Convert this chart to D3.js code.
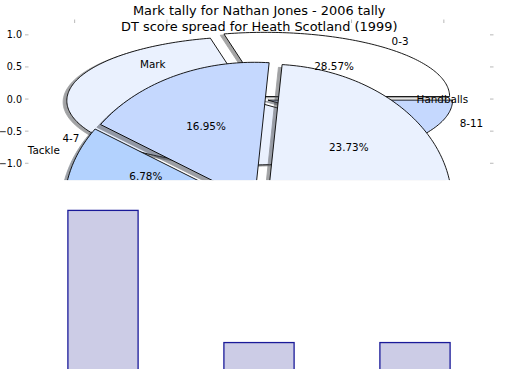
<!DOCTYPE html>
<html><head><meta charset="utf-8">
<script src="https://cdn.jsdelivr.net/npm/d3@7"></script>
<style>body{margin:0;background:#fff} text{font-family:"DejaVu Sans",sans-serif;fill:#000}</style>
</head><body><svg id="c" width="520" height="390"></svg>
<script>
// ---- data ----
const titleLines = ["Mark tally for Nathan Jones - 2006 tally", "DT score spread for Heath Scotland (1999)"];
const outerLabels = ["0-3", "4-7", "8-11"];
const outerValues = [8, 17, 3];
const outerColors = ["#ffffff", "#eaf1fe", "#c5d8fe"];
const outerExplode = [0.05, 0.05, 0.05];
const innerLabels = ["Handballs", "Mark", "Tackle", ""];
const innerValues = [14, 10, 4, 31];
const innerColors = ["#eaf1fe", "#c5d8fe", "#b3d2fe", "#a3c6fe"];
const innerExplode = [0.06, 0.06, 0.06, 0.06];
const yTicks = [-1.0, -0.5, 0.0, 0.5, 1.0];
const xTicks = [-1.0, -0.5, 0.0, 0.5, 1.0];
const barCats = ["0-3", "4-7", "8-11"];
const barValues = [12.5, 2.5, 2.5];

// ---- scales ----
const svg = d3.select("#c");
const x = d3.scaleLinear().domain([-1.25, 1.25]).range([28.5, 490]);
const yTop = d3.scaleLinear().domain([-1.25, 1.25]).range([179.3, 18.8]);
const yInner = d3.scaleLinear().domain([-1.25, 1.25]).range([383, 35]);
const xBand = d3.scaleBand().domain(barCats).range([25, 493]).paddingInner(0.55).paddingOuter(0.275);
const yBar = d3.scaleLinear().domain([0.5, 14.8]).range([369, 180]);

const defs = svg.append("defs");
defs.append("clipPath").attr("id", "topClip").append("rect")
  .attr("x", 0).attr("y", 0).attr("width", 520).attr("height", 180.3);
defs.append("clipPath").attr("id", "barClip").append("rect")
  .attr("x", 0).attr("y", 0).attr("width", 520).attr("height", 369);

const pieGen = d3.pie().sort(null).startAngle(0).endAngle(2 * Math.PI);

function wedges(values, explode, labels, colors) {
  return pieGen(values).map((d, i) => {
    const mid = (d.startAngle + d.endAngle) / 2;
    return {a0: d.startAngle, a1: d.endAngle, mid,
      cx: explode[i] * Math.cos(mid), cy: explode[i] * Math.sin(mid),
      pct: d.value / d3.sum(values) * 100, label: labels[i], color: colors[i]};
  });
}
function wedgePts(w, dx, dy) {
  const n = Math.max(8, Math.ceil((w.a1 - w.a0) / 0.02));
  const pts = [[w.cx + dx, w.cy + dy]];
  for (let k = 0; k <= n; k++) {
    const t = w.a0 + (w.a1 - w.a0) * k / n;
    pts.push([w.cx + dx + Math.cos(t), w.cy + dy + Math.sin(t)]);
  }
  return pts;
}
function shade(c) {
  const r = d3.rgb(c);
  return d3.rgb(r.r * 0.3, r.g * 0.3, r.b * 0.3).toString();
}

const outerW = wedges(outerValues, outerExplode, outerLabels, outerColors);
const innerW = wedges(innerValues, innerExplode, innerLabels, innerColors);

const gTop = svg.append("g").attr("clip-path", "url(#topClip)");

function drawPie(ws, ys) {
  const line = d3.line().x(p => x(p[0])).y(p => ys(p[1]));
  gTop.append("g").selectAll("path").data(ws).join("path")
    .attr("d", w => line(wedgePts(w, -0.02, -0.02)) + "Z")
    .attr("fill", w => shade(w.color)).attr("stroke", w => shade(w.color))
    .attr("stroke-width", 0.9).attr("opacity", 0.5);
  gTop.append("g").selectAll("path").data(ws).join("path")
    .attr("d", w => line(wedgePts(w, 0, 0)) + "Z")
    .attr("fill", w => w.color).attr("stroke", "#000").attr("stroke-width", 0.9)
    .attr("stroke-linejoin", "round");
}
drawPie(outerW, yTop);
drawPie(innerW, yInner);

// ---- texts ----
function drawTexts(ws, ys, withPct) {
  ws.forEach(w => {
    if (!w.label) return;
    const lx = w.cx + 1.1 * Math.cos(w.mid), ly = w.cy + 1.1 * Math.sin(w.mid);
    gTop.append("text").attr("x", x(lx)).attr("y", ys(ly))
      .attr("text-anchor", lx > 0 ? "start" : "end").attr("dominant-baseline", "central")
      .attr("font-size", 10.4).text(w.label);
    if (withPct) {
      const px = w.cx + 0.6 * Math.cos(w.mid), py = w.cy + 0.6 * Math.sin(w.mid);
      gTop.append("text").attr("x", x(px)).attr("y", ys(py))
        .attr("text-anchor", "middle").attr("dominant-baseline", "central")
        .attr("font-size", 10.4).text(w.pct.toFixed(2) + "%");
    }
  });
}
drawTexts(innerW, yInner, true);
// outer pie: only the first autopct is visible; the others lie beneath the inner wedges
outerW.forEach((w, i) => {
  const lx = w.cx + 1.1 * Math.cos(w.mid), ly = w.cy + 1.1 * Math.sin(w.mid);
  gTop.append("text").attr("x", x(lx)).attr("y", yTop(ly))
    .attr("text-anchor", lx > 0 ? "start" : "end").attr("dominant-baseline", "central")
    .attr("font-size", 10.4).text(w.label);
  if (i === 0) {
    const px = w.cx + 0.6 * Math.cos(w.mid), py = w.cy + 0.6 * Math.sin(w.mid);
    gTop.append("text").attr("x", x(px)).attr("y", yTop(py))
      .attr("text-anchor", "middle").attr("dominant-baseline", "central")
      .attr("font-size", 10.4).text(w.pct.toFixed(2) + "%");
  }
});

// ---- axes ticks ----
const tickCol = "#b8b8b8";
const gAx = svg.append("g");
yTicks.forEach(t => {
  gAx.append("line").attr("x1", 25).attr("x2", 28.5).attr("y1", yTop(t)).attr("y2", yTop(t))
    .attr("stroke", tickCol).attr("stroke-width", 1);
  gAx.append("line").attr("x1", 490).attr("x2", 493.5).attr("y1", yTop(t)).attr("y2", yTop(t))
    .attr("stroke", tickCol).attr("stroke-width", 1);
  gAx.append("text").attr("x", 22).attr("y", yTop(t)).attr("text-anchor", "end")
    .attr("dominant-baseline", "central").attr("font-size", 9.6)
    .text(d3.format(".1f")(t).replace("-", "\u2212"));
});
xTicks.forEach(t => {
  gAx.append("line").attr("x1", x(t)).attr("x2", x(t)).attr("y1", 19.5).attr("y2", 23)
    .attr("stroke", tickCol).attr("stroke-width", 1);
});

// ---- title ----
titleLines.forEach((s, i) => {
  svg.append("text").attr("x", (x.range()[0] + x.range()[1]) / 2).attr("y", 15 + i * 15.5)
    .attr("text-anchor", "middle").attr("font-size", 12.9).text(s);
});

// ---- bar chart (lower axes) ----
svg.append("rect").attr("x", 0).attr("y", 180.3).attr("width", 520).attr("height", 210).attr("fill", "#fff");
svg.append("g").attr("clip-path", "url(#barClip)").selectAll("rect").data(barValues).join("rect")
  .attr("x", (d, i) => xBand(barCats[i])).attr("width", xBand.bandwidth())
  .attr("y", d => yBar(d)).attr("height", d => yBar(yBar.domain()[0]) - yBar(d) + 2)
  .attr("fill", "#ccccE6").attr("stroke", "#1a1a99").attr("stroke-width", 1.3);
</script></body></html>
